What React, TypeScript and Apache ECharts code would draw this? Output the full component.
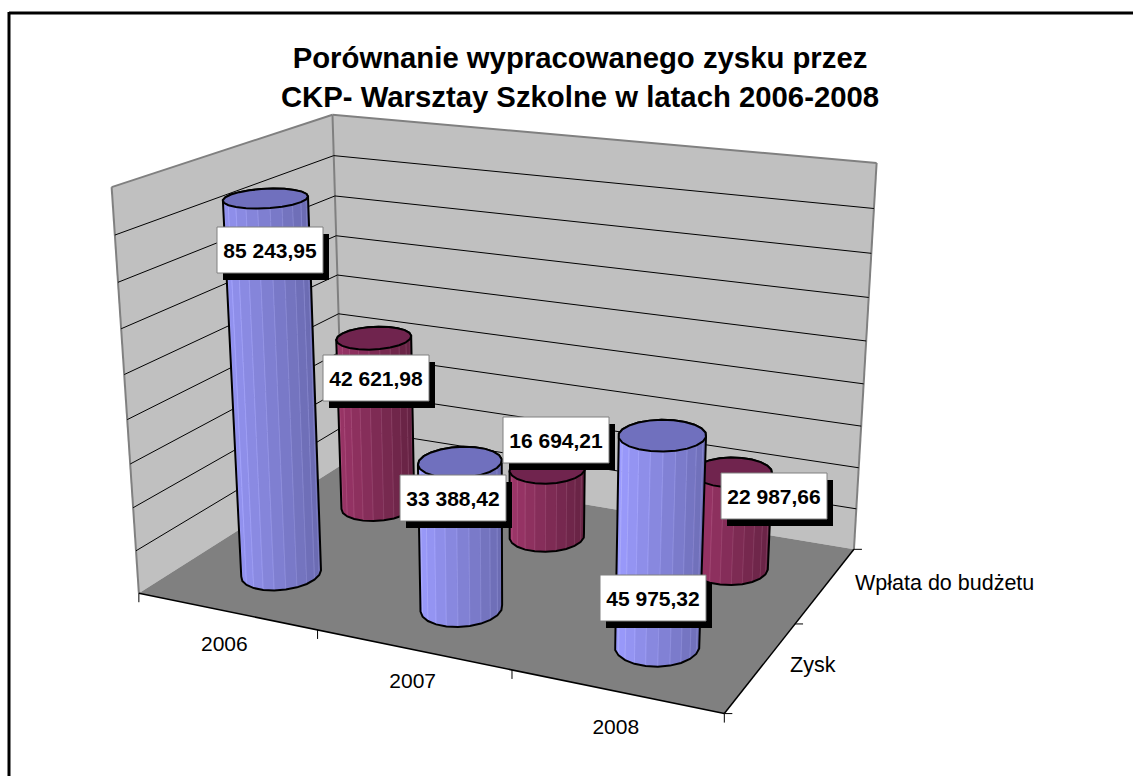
import React, { useEffect, useRef } from "react";
import * as echarts from "echarts";

const titleText = "Porównanie wypracowanego zysku przez\nCKP- Warsztay Szkolne w latach 2006-2008";
const years = ["2006", "2007", "2008"];
const depthNames = ["Zysk", "Wpłata do budżetu"];
const zysk = [85243.95, 33388.42, 45975.32];
const wplata = [42621.98, 16694.21, 22987.66];
const axisMax = 90000;
const axisStep = 10000;
const gridValues = [10000, 20000, 30000, 40000, 50000, 60000, 70000, 80000];

// label box centres, hand-placed in the original chart
const zyskLabelCentres = [[270, 250], [453, 498], [653, 598]];
const wplataLabelCentres = [[376, 378], [556, 440], [774, 496]];

// calibration of the 3D view: (x band, depth band, value share) -> page pixel
const calib: number[][] = [
  [0, 0, 0, 137, 592], [3, 0, 0, 725, 714], [0, 2, 0, 345, 465], [3, 2, 0, 853, 549],
  [0, 0, 1, 113, 188], [0, 2, 1, 331, 114], [3, 2, 1, 877, 163],
];

function solveProjection(pts: number[][]) {
  const rows: number[][] = [];
  const rhs: number[] = [];
  for (const [X, Y, Z, u0, v0] of pts) {
    const u = u0 / 1000, v = v0 / 1000;
    rows.push([X, Y, Z, 1, 0, 0, 0, 0, -u * X, -u * Y, -u * Z]); rhs.push(u);
    rows.push([0, 0, 0, 0, X, Y, Z, 1, -v * X, -v * Y, -v * Z]); rhs.push(v);
  }
  const n = 11;
  const A = Array.from({ length: n }, (_, i) => {
    const r = new Array(n + 1).fill(0);
    for (let j = 0; j < n; j++) rows.forEach((row) => (r[j] += row[i] * row[j]));
    rows.forEach((row, k) => (r[n] += row[i] * rhs[k]));
    return r;
  });
  for (let c = 0; c < n; c++) {
    let p = c;
    for (let r = c + 1; r < n; r++) if (Math.abs(A[r][c]) > Math.abs(A[p][c])) p = r;
    [A[c], A[p]] = [A[p], A[c]];
    for (let r = 0; r < n; r++) {
      if (r === c) continue;
      const f = A[r][c] / A[c][c];
      for (let k = c; k <= n; k++) A[r][k] -= f * A[c][k];
    }
  }
  return A.map((r, i) => r[n] / r[i]);
}
const P = solveProjection(calib);
function project(x: number, d: number, h: number): number[] {
  const w = P[8] * x + P[9] * d + P[10] * h + 1;
  return [
    (1000 * (P[0] * x + P[1] * d + P[2] * h + P[3])) / w,
    (1000 * (P[4] * x + P[5] * d + P[6] * h + P[7])) / w,
  ];
}

const FONT = '"Liberation Sans", Arial, sans-serif';
const radiusX = 0.19;
const radiusD = 0.215;
const SIDES = 22;
const blueRamp = [[156, 156, 255], [106, 106, 176]];
const wineRamp = [[158, 54, 106], [100, 34, 66]];
const blueTop = "#7070BE";
const wineTop = "#70244E";

function hull(points: number[][]) {
  const s = points.slice().sort((a, b) => a[0] - b[0] || a[1] - b[1]);
  const cross = (o: number[], a: number[], b: number[]) =>
    (a[0] - o[0]) * (b[1] - o[1]) - (a[1] - o[1]) * (b[0] - o[0]);
  const lo: number[][] = [];
  for (const p of s) {
    while (lo.length > 1 && cross(lo[lo.length - 2], lo[lo.length - 1], p) <= 0) lo.pop();
    lo.push(p);
  }
  const up: number[][] = [];
  for (const p of s.reverse()) {
    while (up.length > 1 && cross(up[up.length - 2], up[up.length - 1], p) <= 0) up.pop();
    up.push(p);
  }
  return lo.slice(0, -1).concat(up.slice(0, -1));
}
const area = (q: number[][]) =>
  q.reduce((a, p, i) => {
    const n = q[(i + 1) % q.length];
    return a + p[0] * n[1] - n[0] * p[1];
  }, 0);

function toShare(cs: any, px: number, py: number) {
  return [((px - cs.x) / cs.width) * years.length, (cs.y + cs.height - py) / cs.height];
}

function cylinderRenderer(depth: number, ramp: number[][], topColor: string) {
  return (params: any, api: any) => {
    const cs = params.coordSys;
    const c = api.coord([api.value(0), api.value(1)]);
    const [cx, h] = toShare(cs, c[0], c[1]);
    const ring = (hh: number, off: number) =>
      Array.from({ length: SIDES }, (_, j) => {
        const a = ((j + off) / SIDES) * Math.PI * 2;
        return project(cx + radiusX * Math.cos(a), depth + radiusD * Math.sin(a), hh);
      });
    const bottom = ring(0, 0);
    const top = ring(h, 0);
    const outline = hull(bottom.concat(top));
    const xs = outline.map((p) => p[0]);
    const minX = Math.min(...xs), maxX = Math.max(...xs);
    const refA = (3 * Math.PI) / 2;
    const pa = project(cx + radiusX * Math.cos(refA - 0.1), depth + radiusD * Math.sin(refA - 0.1), 0);
    const pb = project(cx + radiusX * Math.cos(refA + 0.1), depth + radiusD * Math.sin(refA + 0.1), 0);
    const pc = project(cx + radiusX * Math.cos(refA), depth + radiusD * Math.sin(refA), h);
    const refSign = Math.sign(area([pa, pb, pc]));
    const children: any[] = [];
    for (let j = 0; j < SIDES; j++) {
      const k = (j + 1) % SIDES;
      const q = [bottom[j], bottom[k], top[k], top[j]];
      if (area(q) * refSign <= 0) continue;
      const t = Math.min(1, Math.max(0, ((bottom[j][0] + bottom[k][0]) / 2 - minX) / (maxX - minX)));
      const col = ramp[0].map((v, i) => Math.round(v + (ramp[1][i] - v) * t));
      const edge = col.map((v) => Math.min(255, v + 22));
      children.push({
        type: "polygon",
        shape: { points: q },
        style: { fill: `rgb(${col.join(",")})`, stroke: `rgb(${edge.join(",")})`, lineWidth: 0.7 },
      });
    }
    children.push({
      type: "polygon",
      shape: { points: outline },
      style: { fill: "none", stroke: "#000", lineWidth: 2 },
    });
    children.push({
      type: "polygon",
      shape: { points: top },
      style: { fill: topColor, stroke: "#000", lineWidth: 2 },
    });
    return { type: "group", children };
  };
}

function formatPl(v: number) {
  const [a, b] = v.toFixed(2).split(".");
  return a.replace(/\B(?=(\d{3})+$)/g, " ") + "," + b;
}

function labelRenderer(centres: number[][]) {
  return (params: any, api: any) => {
    const [x, y] = centres[params.dataIndex];
    const w = 106, h = 46;
    const value = api.value(1);
    return {
      type: "group",
      children: [
        { type: "rect", shape: { x: x - w / 2 + 6, y: y - h / 2 + 7, width: w, height: h }, style: { fill: "#000" } },
        { type: "rect", shape: { x: x - w / 2, y: y - h / 2, width: w, height: h }, style: { fill: "#fff", stroke: "#808080", lineWidth: 1 } },
        {
          type: "text",
          style: { text: formatPl(value), x: x, y: y, align: "center", verticalAlign: "middle", font: `bold 21px ${FONT}`, fill: "#000" },
        },
      ],
    };
  };
}

function wallsRenderer() {
  const nx = years.length, nd = depthNames.length;
  const gray = "#808080";
  const corners = {
    a: project(0, 0, 0), b: project(nx, 0, 0), c: project(0, nd, 0), d: project(nx, nd, 0),
    e: project(0, 0, 1), f: project(0, nd, 1), g: project(nx, nd, 1),
  };
  const tick = (p: number[], dx: number, dy: number) => ({
    type: "line",
    shape: { x1: p[0], y1: p[1], x2: p[0] + dx, y2: p[1] + dy },
    style: { stroke: "#000", lineWidth: 1 },
  });
  const poly = (points: number[][], fill: string) => ({ type: "polygon", shape: { points }, style: { fill } });
  const edge = (p: number[], q: number[], stroke: string, lineWidth = 2) => ({
    type: "line",
    shape: { x1: p[0], y1: p[1], x2: q[0], y2: q[1] },
    style: { stroke, lineWidth },
  });
  const children: any[] = [
    poly([corners.a, corners.c, corners.f, corners.e], "#C0C0C0"),
    poly([corners.c, corners.d, corners.g, corners.f], "#C0C0C0"),
    poly([corners.a, corners.b, corners.d, corners.c], "#808080"),
    edge(corners.e, corners.f, gray), edge(corners.f, corners.g, gray),
    edge(corners.e, corners.a, gray), edge(corners.f, corners.c, gray), edge(corners.g, corners.d, gray),
    edge(corners.a, corners.b, "#000", 1.5), edge(corners.b, corners.d, "#000", 1.5),
  ];
  for (let i = 0; i <= nx; i++) children.push(tick(project(i, 0, 0), 0, 9));
  for (let i = 0; i <= nd; i++) children.push(tick(project(nx, i, 0), 8, 0));
  return { type: "group", children };
}

function gridRenderer() {
  return (params: any, api: any) => {
    const cs = params.coordSys;
    const p = api.coord([0, api.value(1)]);
    const h = toShare(cs, p[0], p[1])[1];
    const nx = years.length, nd = depthNames.length;
    return {
      type: "polyline",
      shape: { points: [project(0, 0, h), project(0, nd, h), project(nx, nd, h)] },
      style: { fill: "none", stroke: "#000", lineWidth: 1 },
    };
  };
}

const yearLabelOffset = [[-2, 32], [0, 31], [0, 35]];
const depthLabelAt = [[790, 665], [855, 583]];

function axisTextRenderer(kind: "x" | "d") {
  return (params: any) => {
    const i = params.dataIndex;
    if (kind === "x") {
      const p = project(i + 0.5, 0, 0);
      return {
        type: "text",
        style: { text: years[i], x: p[0] + yearLabelOffset[i][0], y: p[1] + yearLabelOffset[i][1], align: "center", verticalAlign: "middle", font: `21px ${FONT}`, fill: "#000" },
      };
    }
    return {
      type: "text",
      style: { text: depthNames[i], x: depthLabelAt[i][0], y: depthLabelAt[i][1], align: "left", verticalAlign: "middle", font: `21.5px ${FONT}`, fill: "#000" },
    };
  };
}

const pairs = (vals: number[]) => vals.map((v, i) => [i, v]);

export default function App() {
  const ref = useRef<HTMLDivElement>(null);
  useEffect(() => {
    const chart = echarts.init(ref.current!, undefined, { renderer: "svg" });
    const custom = (id: string, renderItem: any, data: any[], z: number) => ({
      type: "custom", id, coordinateSystem: "cartesian2d", encode: { x: 0, y: 1 },
      renderItem, data, z, clip: false, silent: true,
    });
    chart.setOption({
      animation: false,
      backgroundColor: "#fff",
      title: {
        text: titleText,
        left: 575, top: 33, textAlign: "center",
        textStyle: { fontFamily: FONT, fontWeight: "bold", fontSize: 29.3, lineHeight: 39, color: "#000" },
      },
      grid: { left: 0, right: 0, top: 0, bottom: 0 },
      xAxis: { type: "category", data: years, show: false },
      yAxis: { type: "value", min: 0, max: axisMax, interval: axisStep, show: false },
      graphic: [
        { type: "line", shape: { x1: 9, y1: 13, x2: 1133, y2: 13 }, style: { stroke: "#000", lineWidth: 3 } },
        { type: "line", shape: { x1: 9, y1: 12, x2: 9, y2: 776 }, style: { stroke: "#000", lineWidth: 3 } },
      ],
      series: [
        custom("walls", wallsRenderer, [[0, 0]], 1),
        custom("grid", gridRenderer(), gridValues.map((v) => [0, v]), 2),
        custom("yearLabels", axisTextRenderer("x"), pairs([0, 0, 0]), 2),
        custom("depthLabels", axisTextRenderer("d"), pairs([0, 0]), 2),
        custom("wplata", cylinderRenderer(1.5, wineRamp, wineTop), pairs(wplata), 3),
        custom("zysk", cylinderRenderer(0.5, blueRamp, blueTop), pairs(zysk), 4),
        custom("wplataLabels", labelRenderer(wplataLabelCentres), pairs(wplata), 5),
        custom("zyskLabels", labelRenderer(zyskLabelCentres), pairs(zysk), 5),
      ],
    });
    return () => chart.dispose();
  }, []);
  return <div ref={ref} style={{ position: "fixed", left: 0, top: 0, width: 1133, height: 776 }} />;
}
